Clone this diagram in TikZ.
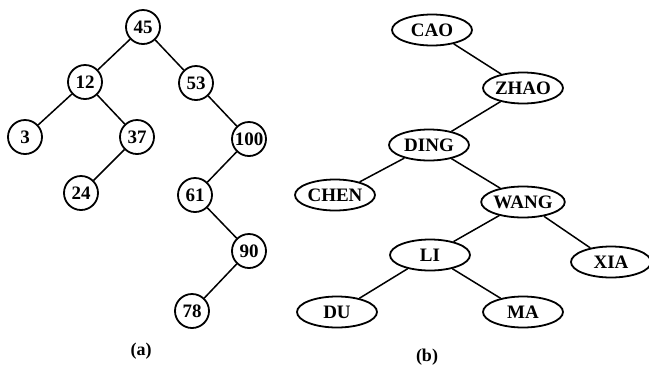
\documentclass[tikz,border=0pt]{standalone}
\usepackage{fontspec}
\setmainfont{Liberation Serif}
\usetikzlibrary{shapes.geometric}
\begin{document}
\begin{tikzpicture}[x=1pt,y=-1pt,
  every node/.style={font=\fontsize{19}{21}\selectfont\bfseries},
  cnode/.style={circle,draw,line width=1.8pt,minimum size=34pt,inner sep=0pt},
  enode/.style={ellipse,draw,line width=1.8pt,minimum width=80pt,minimum height=31pt,inner sep=0pt},
  conn/.style={line width=1.5pt},
  captext/.style={font=\fontsize{18}{20}\selectfont\bfseries}]
\useasboundingbox (0,0) rectangle (649,368);
% tree (a)
\node[cnode] (n45) at (143,27) {45};
\node[cnode] (n12) at (85,82) {12};
\node[cnode] (n53) at (196,83) {53};
\node[cnode] (n3) at (25,137) {3};
\node[cnode] (n37) at (137,137) {37};
\node[cnode] (n100) at (249,139) {100};
\node[cnode] (n24) at (81,193) {24};
\node[cnode] (n61) at (195,195) {61};
\node[cnode] (n90) at (249,251) {90};
\node[cnode] (n78) at (192,311) {78};
\node[captext] (capa) at (141,351) {(a)};
\draw[conn] (n45) -- (n12);
\draw[conn] (n45) -- (n53);
\draw[conn] (n12) -- (n3);
\draw[conn] (n12) -- (n37);
\draw[conn] (n37) -- (n24);
\draw[conn] (n53) -- (n100);
\draw[conn] (n100) -- (n61);
\draw[conn] (n61) -- (n90);
\draw[conn] (n90) -- (n78);
% tree (b)
\node[enode] (cao) at (432,30) {CAO};
\node[enode] (zhao) at (523,88) {ZHAO};
\node[enode] (ding) at (429,145) {DING};
\node[enode] (chen) at (335,195) {CHEN};
\node[enode] (wang) at (523,202) {WANG};
\node[enode] (li) at (430,255) {LI};
\node[enode] (xia) at (611,262) {XIA};
\node[enode] (du) at (337,312) {DU};
\node[enode] (ma) at (523,312) {MA};
\node[captext] (capb) at (427,357) {(b)};
\draw[conn] (cao) -- (zhao);
\draw[conn] (zhao) -- (ding);
\draw[conn] (ding) -- (chen);
\draw[conn] (ding) -- (wang);
\draw[conn] (wang) -- (li);
\draw[conn] (wang) -- (xia);
\draw[conn] (li) -- (du);
\draw[conn] (li) -- (ma);
\end{tikzpicture}
\end{document}
